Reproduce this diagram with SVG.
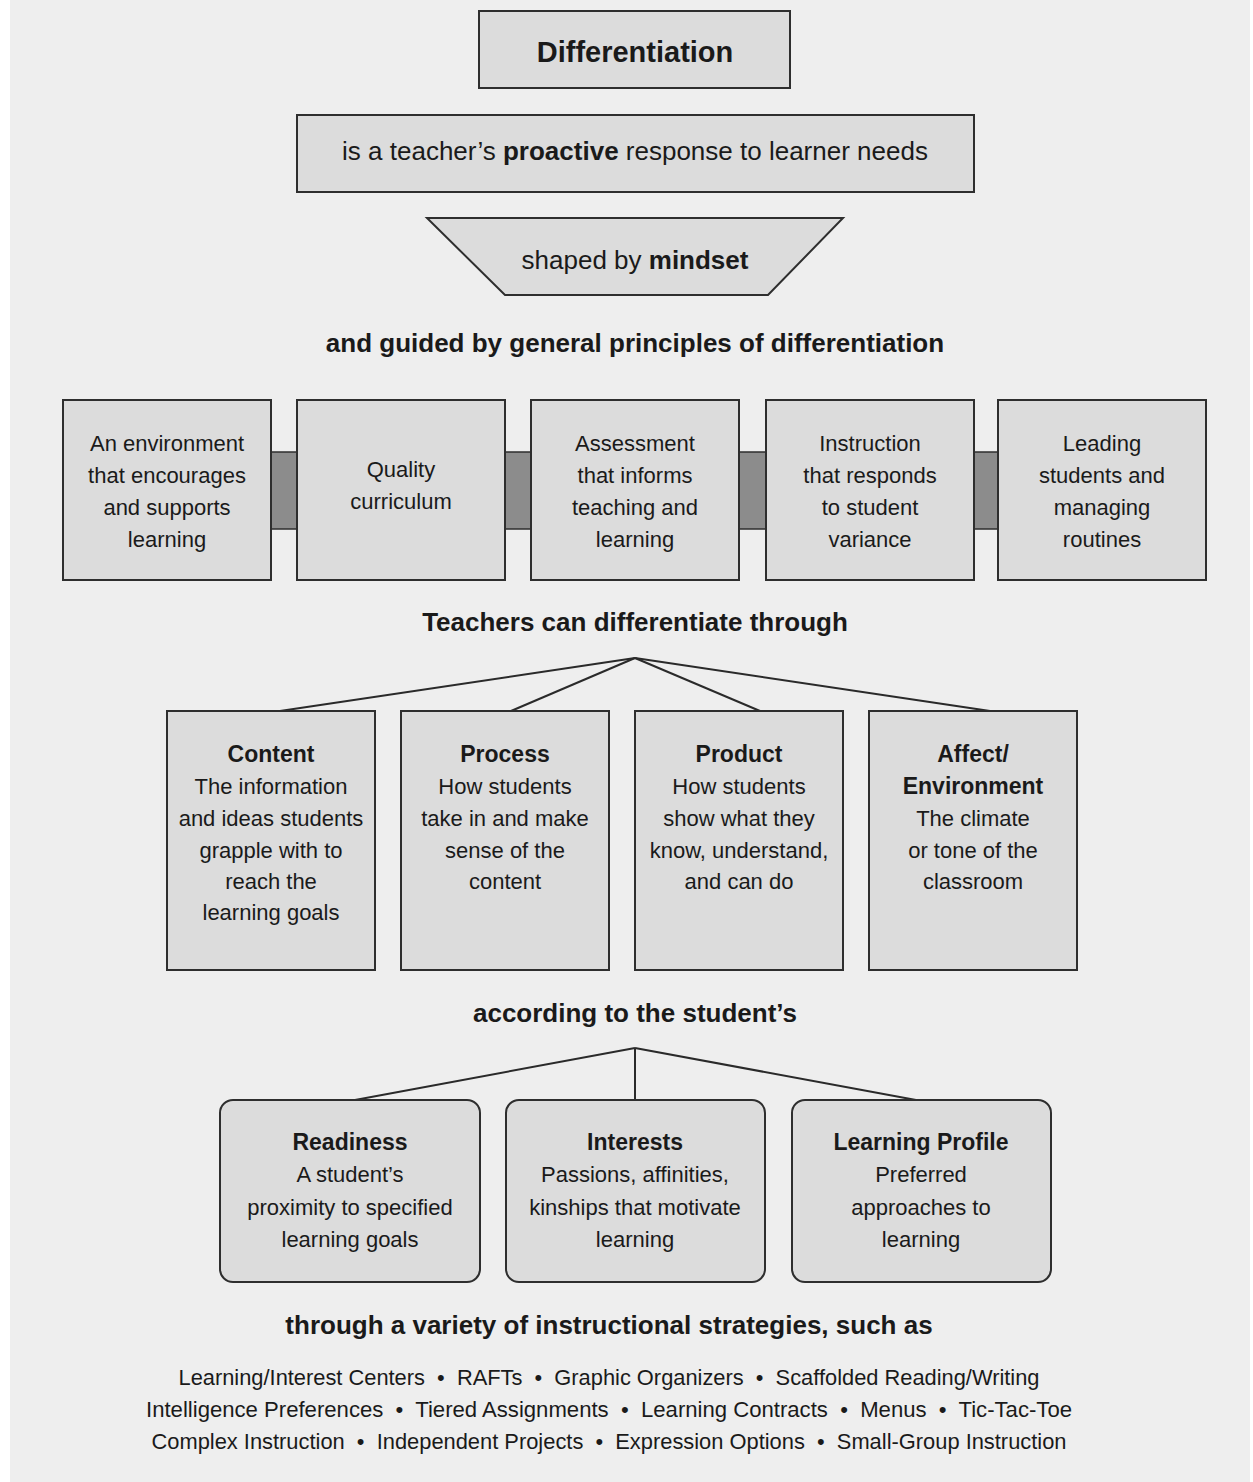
<svg xmlns="http://www.w3.org/2000/svg" width="1253" height="1482" viewBox="0 0 1253 1482">
<style>
  text { font-family: "Liberation Sans", Arial, sans-serif; fill: #1a1a1a; text-anchor: middle; }
  .box { fill: #dcdcdc; stroke: #2e2e2e; stroke-width: 2; }
  .bar { fill: #8c8c8c; stroke: #2e2e2e; stroke-width: 1.5; }
  .head { font-size: 26px; font-weight: bold; }
  .t22 { font-size: 22px; }
  .b23 { font-size: 23px; font-weight: bold; }
  .strat { font-size: 22px; white-space: pre; }
  .conn line { stroke: #2a2a2a; stroke-width: 2; }
  .b { font-weight: bold; }
</style>
<rect x="0" y="0" width="1253" height="1482" fill="#ffffff"/>
<rect x="10" y="0" width="1240" height="1482" fill="#eeeeee"/>

<g id="differentiation">
  <rect class="box" x="479" y="11" width="311" height="77"/>
  <text x="635" y="62" style="font-size:29px;font-weight:bold">Differentiation</text>
</g>
<g id="proactive">
  <rect class="box" x="297" y="115" width="677" height="77"/>
  <text x="635" y="160" style="font-size:26px">is a teacher’s <tspan class="b">proactive</tspan> response to learner needs</text>
</g>
<g id="mindset">
  <polygon class="box" points="427,218 843,218 768,295 505,295"/>
  <text x="635" y="269" style="font-size:26px">shaped by <tspan class="b">mindset</tspan></text>
</g>
<g id="guided">
  <text class="head" x="635" y="352">and guided by general principles of differentiation</text>
</g>

<g id="principle-links">
  <rect class="bar" x="271" y="452" width="26" height="77"/>
  <rect class="bar" x="505" y="452" width="26" height="77"/>
  <rect class="bar" x="739" y="452" width="27" height="77"/>
  <rect class="bar" x="974" y="452" width="24" height="77"/>
</g>
<g id="p-environment">
  <rect class="box" x="63" y="400" width="208" height="180"/>
  <text class="t22" x="167" y="451">An environment</text>
  <text class="t22" x="167" y="483">that encourages</text>
  <text class="t22" x="167" y="515">and supports</text>
  <text class="t22" x="167" y="547">learning</text>
</g>
<g id="p-curriculum">
  <rect class="box" x="297" y="400" width="208" height="180"/>
  <text class="t22" x="401" y="477">Quality</text>
  <text class="t22" x="401" y="509">curriculum</text>
</g>
<g id="p-assessment">
  <rect class="box" x="531" y="400" width="208" height="180"/>
  <text class="t22" x="635" y="451">Assessment</text>
  <text class="t22" x="635" y="483">that informs</text>
  <text class="t22" x="635" y="515">teaching and</text>
  <text class="t22" x="635" y="547">learning</text>
</g>
<g id="p-instruction">
  <rect class="box" x="766" y="400" width="208" height="180"/>
  <text class="t22" x="870" y="451">Instruction</text>
  <text class="t22" x="870" y="483">that responds</text>
  <text class="t22" x="870" y="515">to student</text>
  <text class="t22" x="870" y="547">variance</text>
</g>
<g id="p-leading">
  <rect class="box" x="998" y="400" width="208" height="180"/>
  <text class="t22" x="1102" y="451">Leading</text>
  <text class="t22" x="1102" y="483">students and</text>
  <text class="t22" x="1102" y="515">managing</text>
  <text class="t22" x="1102" y="547">routines</text>
</g>

<g id="teachers">
  <text class="head" x="635" y="631">Teachers can differentiate through</text>
</g>

<g id="connectors" class="conn">
  <line x1="635" y1="658" x2="280" y2="711"/>
  <line x1="635" y1="658" x2="511" y2="711"/>
  <line x1="635" y1="658" x2="760" y2="711"/>
  <line x1="635" y1="658" x2="990" y2="711"/>
  <line x1="635" y1="1048" x2="355" y2="1100"/>
  <line x1="635" y1="1048" x2="635" y2="1100"/>
  <line x1="635" y1="1048" x2="916" y2="1100"/>
</g>

<g id="content">
  <rect class="box" x="167" y="711" width="208" height="259"/>
  <text class="b23" x="271" y="762">Content</text>
  <text class="t22" x="271" y="794">The information</text>
  <text class="t22" x="271" y="826">and ideas students</text>
  <text class="t22" x="271" y="858">grapple with to</text>
  <text class="t22" x="271" y="889">reach the</text>
  <text class="t22" x="271" y="920">learning goals</text>
</g>
<g id="process">
  <rect class="box" x="401" y="711" width="208" height="259"/>
  <text class="b23" x="505" y="762">Process</text>
  <text class="t22" x="505" y="794">How students</text>
  <text class="t22" x="505" y="826">take in and make</text>
  <text class="t22" x="505" y="858">sense of the</text>
  <text class="t22" x="505" y="889">content</text>
</g>
<g id="product">
  <rect class="box" x="635" y="711" width="208" height="259"/>
  <text class="b23" x="739" y="762">Product</text>
  <text class="t22" x="739" y="794">How students</text>
  <text class="t22" x="739" y="826">show what they</text>
  <text class="t22" x="739" y="858">know, understand,</text>
  <text class="t22" x="739" y="889">and can do</text>
</g>
<g id="affect">
  <rect class="box" x="869" y="711" width="208" height="259"/>
  <text class="b23" x="973" y="762">Affect/</text>
  <text class="b23" x="973" y="794">Environment</text>
  <text class="t22" x="973" y="826">The climate</text>
  <text class="t22" x="973" y="858">or tone of the</text>
  <text class="t22" x="973" y="889">classroom</text>
</g>

<g id="according">
  <text class="head" x="635" y="1022">according to the student’s</text>
</g>

<g id="readiness">
  <rect class="box" x="220" y="1100" width="260" height="182" rx="13"/>
  <text class="b23" x="350" y="1150">Readiness</text>
  <text class="t22" x="350" y="1182">A student’s</text>
  <text class="t22" x="350" y="1215">proximity to specified</text>
  <text class="t22" x="350" y="1247">learning goals</text>
</g>
<g id="interests">
  <rect class="box" x="506" y="1100" width="259" height="182" rx="13"/>
  <text class="b23" x="635" y="1150">Interests</text>
  <text class="t22" x="635" y="1182">Passions, affinities,</text>
  <text class="t22" x="635" y="1215">kinships that motivate</text>
  <text class="t22" x="635" y="1247">learning</text>
</g>
<g id="learning-profile">
  <rect class="box" x="792" y="1100" width="259" height="182" rx="13"/>
  <text class="b23" x="921" y="1150">Learning Profile</text>
  <text class="t22" x="921" y="1182">Preferred</text>
  <text class="t22" x="921" y="1215">approaches to</text>
  <text class="t22" x="921" y="1247">learning</text>
</g>

<g id="strategies">
  <text class="head" x="609" y="1334">through a variety of instructional strategies, such as</text>
  <text class="strat" x="609" y="1385" textLength="861" lengthAdjust="spacingAndGlyphs">Learning/Interest Centers  •  RAFTs  •  Graphic Organizers  •  Scaffolded Reading/Writing</text>
  <text class="strat" x="609" y="1417" textLength="926" lengthAdjust="spacingAndGlyphs">Intelligence Preferences  •  Tiered Assignments  •  Learning Contracts  •  Menus  •  Tic-Tac-Toe</text>
  <text class="strat" x="609" y="1449" textLength="915" lengthAdjust="spacingAndGlyphs">Complex Instruction  •  Independent Projects  •  Expression Options  •  Small-Group Instruction</text>
</g>
</svg>
